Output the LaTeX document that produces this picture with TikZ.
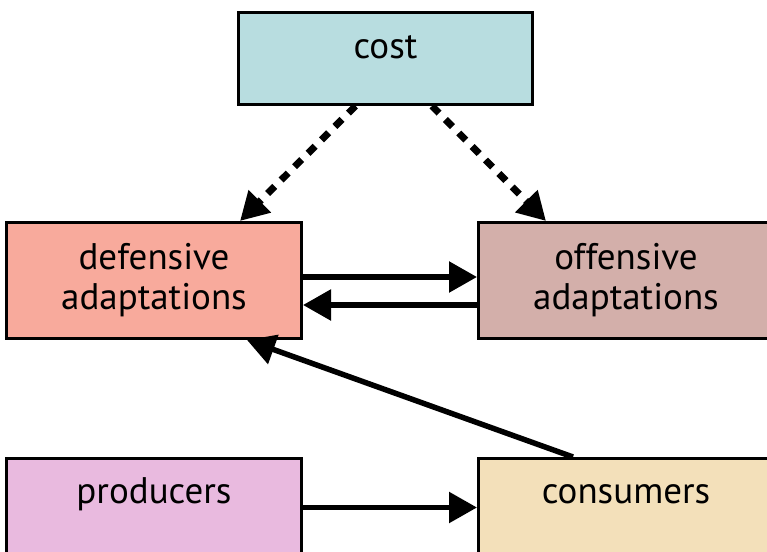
\documentclass[tikz,border=0pt]{standalone}
\usepackage{fontspec}
\setmainfont{PT Sans}
\usetikzlibrary{arrows.meta,calc}
\definecolor{costcol}{HTML}{B8DDE0}\definecolor{defcol}{HTML}{F8AA9C}\definecolor{offcol}{HTML}{D3AFAA}
\definecolor{prodcol}{HTML}{E9BADF}\definecolor{conscol}{HTML}{F3E0BA}
\tikzset{>={Triangle[length=28pt,width=30pt]},every node/.style={font=\fontsize{37}{40}\selectfont},box/.style={draw,line width=3pt,minimum width=295pt,align=center,inner sep=0pt},flow/.style={line width=5.5pt,->},cause/.style={line width=7pt,->,dash pattern=on 10pt off 9pt}}
\begin{document}
\begin{tikzpicture}[x=1pt,y=-1pt]
\useasboundingbox (0,0) rectangle (767,551);\clip (0,0) rectangle (767,551);
\node[box,fill=costcol,minimum width=294pt,minimum height=92pt,text height=20pt,text depth=20pt] (cost) at (385.5,58.5){cost};
\node[box,fill=defcol,minimum height=116pt] (def) at (154,280.5){defensive\\adaptations};\node[box,fill=offcol,minimum height=116pt] (off) at (626,280.5){offensive\\adaptations};
\node[box,fill=prodcol,minimum height=98pt,text height=26pt,text depth=34pt] (prod) at (154,507.5){producers};\node[box,fill=conscol,minimum height=98pt,text height=26pt,text depth=34pt] (cons) at (626,507.5){consumers};
\draw[cause] ($(cost.south)+(-30,0)$)--($(def.north)+(86,0)$);\draw[cause] ($(cost.south)+(46.5,0)$)--($(off.north)+(-80,0)$);
\draw[flow] ($(def.east)+(0,-3.5)$)--($(off.west)+(0,-3.5)$);\draw[flow] ($(off.west)+(0,24.5)$)--($(def.east)+(0,24.5)$);
\draw[flow] ($(cons.north)+(-53,0)$)--($(def.south)+(93,0)$);\draw[flow] (prod.east)--(cons.west);
\end{tikzpicture}
\end{document}
